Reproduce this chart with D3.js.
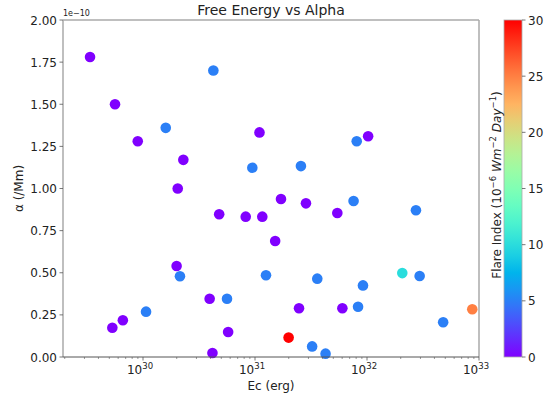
<!DOCTYPE html>
<html>
<head>
<meta charset="utf-8">
<title>Free Energy vs Alpha</title>
<script src="https://d3js.org/d3.v7.min.js"></script>
<style>
  body { margin: 0; background: #fff; }
  text { font-family: "DejaVu Sans", sans-serif; fill: #222; }
</style>
</head>
<body>
<svg id="chart" width="553" height="402"></svg>
<script>
// free energy Ec (erg), log10 values
const logEc = [29.527, 29.75, 29.953, 30.203, 30.628, 30.36, 30.31, 31.04, 30.976, 31.41,
               31.908, 32.01, 30.68, 30.917, 31.065, 31.18, 30.30, 30.33, 31.098, 30.595,
               30.75, 30.027, 29.82, 29.726, 30.76, 30.62, 31.232, 31.455, 31.735, 31.88,
               32.437, 31.556, 31.964, 32.315, 32.47, 31.393, 31.78, 31.92, 32.94, 32.68,
               31.30, 31.51, 31.63];
// alpha in units of 1e-10 /Mm
const alpha = [1.78, 1.50, 1.28, 1.36, 1.70, 1.17, 1.00, 1.333, 1.123, 1.133,
               1.28, 1.31, 0.847, 0.833, 0.833, 0.688, 0.540, 0.479, 0.485, 0.346,
               0.346, 0.269, 0.218, 0.174, 0.148, 0.024, 0.938, 0.912, 0.855, 0.926,
               0.871, 0.465, 0.425, 0.498, 0.481, 0.289, 0.289, 0.298, 0.283, 0.206,
               0.115, 0.063, 0.020];
// flare index
const flare = [0, 0, 0, 5, 5, 0, 0, 0, 5, 5,
               5, 0, 0, 0, 0, 0, 0, 5, 5, 0,
               5, 5, 0, 0, 0, 0, 0, 0, 0, 5,
               5, 5, 5, 10, 5, 0, 0, 5, 25, 5,
               30, 5, 5];

const yTicks = [0, 0.25, 0.5, 0.75, 1.0, 1.25, 1.5, 1.75, 2.0];
const xTicks = [30, 31, 32, 33];
const cTicks = [0, 5, 10, 15, 20, 25, 30];

// matplotlib "rainbow" colormap
function rainbow(t) {
  const r = Math.min(1, Math.abs(2 * t - 0.5));
  const g = Math.sin(Math.PI * t);
  const b = Math.cos(Math.PI / 2 * t);
  return d3.rgb(r * 255, g * 255, b * 255).formatHex();
}

const svg = d3.select("#chart");
const pLeft = 63, pRight = 479, pTop = 20, pBottom = 357;

const x = d3.scaleLog().domain([1.93e29, 1e33]).range([pLeft, pRight]);
const y = d3.scaleLinear().domain([0, 2.0]).range([pBottom, pTop]);
const c = d3.scaleLinear().domain([0, 30]).range([0, 1]);

// points
svg.append("g").selectAll("circle")
  .data(logEc.map((d, i) => ({ e: Math.pow(10, d), a: alpha[i], f: flare[i] })))
  .join("circle")
  .attr("cx", d => x(d.e))
  .attr("cy", d => y(d.a))
  .attr("r", 5.3)
  .attr("fill", d => rainbow(c(d.f)));

// spines
svg.append("line").attr("x1", pLeft).attr("x2", pRight).attr("y1", pTop).attr("y2", pTop)
  .attr("stroke", "#aaa").attr("stroke-width", 1.5);
svg.append("line").attr("x1", pLeft).attr("x2", pLeft).attr("y1", pTop).attr("y2", pBottom)
  .attr("stroke", "#aaa").attr("stroke-width", 1.5);
svg.append("line").attr("x1", pRight).attr("x2", pRight).attr("y1", pTop).attr("y2", pBottom)
  .attr("stroke", "#aaa").attr("stroke-width", 1.5);
svg.append("line").attr("x1", pLeft).attr("x2", pRight).attr("y1", pBottom).attr("y2", pBottom)
  .attr("stroke", "#555").attr("stroke-width", 1);

// x axis ticks
const xg = svg.append("g");
const minor = [];
for (let dec = 29; dec <= 32; dec++) {
  for (let m = 2; m <= 9; m++) {
    const v = m * Math.pow(10, dec);
    if (v >= 1.93e29 && v <= 1e33) minor.push(v);
  }
}
xg.selectAll("line.minor").data(minor).join("line")
  .attr("class", "minor")
  .attr("x1", d => x(d)).attr("x2", d => x(d))
  .attr("y1", pBottom).attr("y2", pBottom + 2)
  .attr("stroke", "#555").attr("stroke-width", 0.6);
xg.selectAll("line.major").data(xTicks).join("line")
  .attr("class", "major")
  .attr("x1", d => x(Math.pow(10, d))).attr("x2", d => x(Math.pow(10, d)))
  .attr("y1", pBottom).attr("y2", pBottom + 3.5)
  .attr("stroke", "#555").attr("stroke-width", 0.8);
const xl = xg.selectAll("text").data(xTicks).join("text")
  .attr("x", d => x(Math.pow(10, d)) - 3)
  .attr("y", pBottom + 17)
  .attr("text-anchor", "middle")
  .style("font-size", "12px");
xl.append("tspan").text("10");
xl.append("tspan").attr("dy", -5).style("font-size", "8.5px").text(d => d);

// y axis ticks
const yg = svg.append("g");
yg.selectAll("line").data(yTicks).join("line")
  .attr("x1", pLeft - 3.5).attr("x2", pLeft)
  .attr("y1", d => y(d)).attr("y2", d => y(d))
  .attr("stroke", "#555").attr("stroke-width", 0.8);
yg.selectAll("text").data(yTicks).join("text")
  .attr("x", pLeft - 6)
  .attr("y", d => y(d) + 4.5)
  .attr("text-anchor", "end")
  .style("font-size", "12px")
  .text(d => d3.format(".2f")(d));

svg.append("text").attr("x", pLeft).attr("y", 16)
  .style("font-size", "8px").text("1e\u221210");

// labels
svg.append("text").attr("x", (pLeft + pRight) / 2).attr("y", 15)
  .attr("text-anchor", "middle").style("font-size", "14px")
  .text("Free Energy vs Alpha");
svg.append("text").attr("x", (pLeft + pRight) / 2).attr("y", 390)
  .attr("text-anchor", "middle").style("font-size", "12px")
  .text("Ec (erg)");
svg.append("text")
  .attr("transform", `translate(23,${(pTop + pBottom) / 2}) rotate(-90)`)
  .attr("text-anchor", "middle").style("font-size", "12px")
  .text("\u03b1 (/Mm)");

// colorbar
const cbX = 504, cbW = 18;
const defs = svg.append("defs");
const grad = defs.append("linearGradient").attr("id", "cbar")
  .attr("x1", 0).attr("x2", 0).attr("y1", 1).attr("y2", 0);
grad.selectAll("stop").data(d3.range(0, 1.0001, 0.05)).join("stop")
  .attr("offset", d => d).attr("stop-color", d => rainbow(d));
svg.append("rect").attr("x", cbX).attr("y", pTop).attr("width", cbW)
  .attr("height", pBottom - pTop).attr("fill", "url(#cbar)")
  .attr("stroke", "#aaa").attr("stroke-width", 0.8);

const cy = d3.scaleLinear().domain([0, 30]).range([pBottom, pTop]);
const cg = svg.append("g");
cg.selectAll("line").data(cTicks).join("line")
  .attr("x1", cbX + cbW).attr("x2", cbX + cbW + 3.5)
  .attr("y1", d => cy(d)).attr("y2", d => cy(d))
  .attr("stroke", "#555").attr("stroke-width", 0.8);
cg.selectAll("text").data(cTicks).join("text")
  .attr("x", cbX + cbW + 6)
  .attr("y", d => cy(d) + 4.5)
  .style("font-size", "12px")
  .text(d => d);

const cl = svg.append("text")
  .attr("transform", `translate(501,185) rotate(-90)`)
  .attr("text-anchor", "middle").style("font-size", "12px");
cl.append("tspan").text("Flare Index (10");
cl.append("tspan").attr("dy", -5).style("font-size", "8.5px").text("\u22126");
cl.append("tspan").attr("dy", 5).text(" ");
cl.append("tspan").style("font-style", "italic").text("Wm");
cl.append("tspan").attr("dy", -5).style("font-size", "8.5px").text("\u22122");
cl.append("tspan").attr("dy", 5).text(" ");
cl.append("tspan").style("font-style", "italic").text("Day");
cl.append("tspan").attr("dy", -5).style("font-size", "8.5px").text("\u22121");
cl.append("tspan").attr("dy", 5).text(")");
</script>
</body>
</html>
